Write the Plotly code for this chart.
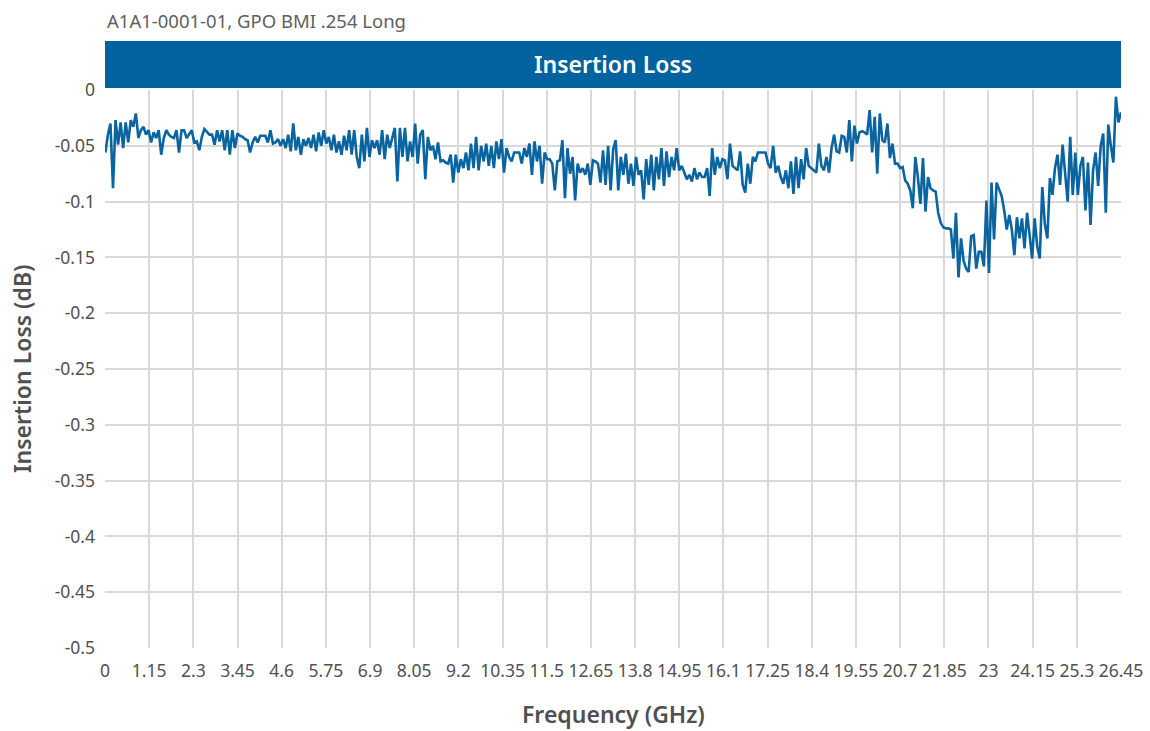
import numpy as np
import plotly.graph_objects as go

# Sweep definition (401-point linear frequency sweep, GHz)
F_START = 0.01
F_STOP = 26.45
N_POINTS = 401

# Measured insertion loss (dB), in sweep order
loss_a = [
    -0.056, -0.040, -0.030, -0.088, -0.027, -0.049, -0.029, -0.052, -0.029, -0.047,
    -0.027, -0.033, -0.021, -0.043, -0.036, -0.033, -0.040, -0.036, -0.047, -0.038,
    -0.043, -0.036, -0.058, -0.043, -0.036, -0.040, -0.042, -0.043, -0.036, -0.056,
    -0.036, -0.036, -0.043, -0.040, -0.036, -0.047,
    -0.046, -0.054, -0.042, -0.035, -0.038, -0.040, -0.040, -0.049, -0.036, -0.046,
    -0.036, -0.054, -0.036, -0.058, -0.036, -0.052, -0.039, -0.041, -0.042, -0.044,
    -0.045, -0.056, -0.047, -0.042, -0.047, -0.041, -0.041, -0.041, -0.047, -0.036,
    -0.048, -0.047, -0.044, -0.050, -0.044,
]
loss_b = [
    -0.052, -0.040, -0.055, -0.030, -0.054, -0.042, -0.058, -0.044, -0.050, -0.043,
    -0.052, -0.040, -0.055, -0.038, -0.050, -0.036, -0.048, -0.042, -0.054, -0.040,
    -0.056, -0.046, -0.058, -0.041, -0.054, -0.036, -0.058, -0.036, -0.060, -0.070,
    -0.040, -0.064, -0.034, -0.060, -0.045, -0.052,
    -0.045, -0.058, -0.036, -0.062, -0.040, -0.052, -0.044, -0.034, -0.082, -0.034,
    -0.060, -0.034, -0.064, -0.046, -0.060, -0.030, -0.066, -0.040, -0.036, -0.080,
    -0.042, -0.054, -0.050, -0.062, -0.047, -0.064, -0.063, -0.065, -0.066, -0.058,
    -0.083, -0.058, -0.074, -0.062, -0.070, -0.056,
]
loss_c = [
    -0.072, -0.048, -0.070, -0.042, -0.072, -0.050, -0.064, -0.048, -0.068, -0.050,
    -0.070, -0.046, -0.062, -0.044, -0.074, -0.052, -0.060, -0.064, -0.056, -0.056,
    -0.056, -0.066, -0.052, -0.060, -0.048, -0.076, -0.046, -0.064, -0.050, -0.084,
    -0.056, -0.062, -0.062, -0.066, -0.090, -0.064,
    -0.063, -0.045, -0.097, -0.052, -0.075, -0.060, -0.099, -0.066, -0.074, -0.070,
    -0.076, -0.066, -0.085, -0.063, -0.064, -0.066, -0.083, -0.054, -0.085, -0.050,
    -0.090, -0.053, -0.045, -0.090, -0.060, -0.076, -0.057, -0.084, -0.066, -0.086,
    -0.060, -0.076, -0.072, -0.098, -0.062,
]
loss_d = [
    -0.085, -0.058, -0.090, -0.060, -0.080, -0.052, -0.086, -0.055, -0.078, -0.060,
    -0.072, -0.052, -0.072, -0.068, -0.074, -0.080, -0.076, -0.082, -0.070, -0.080,
    -0.074, -0.078, -0.078, -0.070, -0.095, -0.052, -0.076, -0.060, -0.070, -0.062,
    -0.063, -0.080, -0.048, -0.068, -0.070,
    -0.072, -0.055, -0.085, -0.092, -0.066, -0.084, -0.060, -0.064, -0.056, -0.056,
    -0.056, -0.056, -0.066, -0.070, -0.050, -0.074, -0.068, -0.078, -0.084, -0.072,
    -0.088, -0.064, -0.093, -0.060, -0.088, -0.062, -0.080, -0.052, -0.068, -0.070,
    -0.072, -0.074, -0.048, -0.068, -0.072, -0.060,
]
loss_e = [
    -0.074, -0.052, -0.040, -0.055, -0.056, -0.041, -0.042, -0.056, -0.027, -0.064,
    -0.032, -0.048, -0.038, -0.037, -0.038, -0.040, -0.018, -0.056, -0.024, -0.075,
    -0.021, -0.045, -0.047, -0.030, -0.061, -0.048, -0.066, -0.066, -0.070, -0.069,
    -0.081, -0.084, -0.090,
    -0.106, -0.060, -0.078, -0.102, -0.061, -0.109, -0.078, -0.088, -0.090, -0.091,
    -0.110, -0.119, -0.123, -0.124, -0.124, -0.125, -0.151, -0.110, -0.168, -0.133,
    -0.153, -0.160, -0.163, -0.131, -0.130, -0.160, -0.145, -0.145, -0.158, -0.099,
    -0.164, -0.083, -0.134, -0.083, -0.090, -0.095, -0.108, -0.125, -0.112, -0.125,
    -0.148, -0.114,
]
loss_f = [
    -0.133, -0.115, -0.142, -0.110, -0.130, -0.151, -0.115, -0.140, -0.151, -0.087,
    -0.120, -0.133, -0.079, -0.094, -0.070, -0.058, -0.085, -0.049, -0.075, -0.100,
    -0.042, -0.094, -0.056, -0.094, -0.068, -0.060, -0.108, -0.065, -0.121, -0.072,
    -0.056, -0.086, -0.050, -0.039, -0.110, -0.031, -0.050, -0.065, -0.006, -0.029,
    -0.020, -0.009,
]

# Axis tick labels
x_tick_labels = ["0", "1.15", "2.3", "3.45", "4.6", "5.75", "6.9", "8.05", "9.2",
                 "10.35", "11.5", "12.65", "13.8", "14.95", "16.1", "17.25", "18.4",
                 "19.55", "20.7", "21.85", "23", "24.15", "25.3", "26.45"]
y_tick_labels = ["0", "-0.05", "-0.1", "-0.15", "-0.2", "-0.25", "-0.3", "-0.35",
                 "-0.4", "-0.45", "-0.5"]

loss = loss_a + loss_b + loss_c + loss_d + loss_e + loss_f
n = min(len(loss), N_POINTS)
freq = np.linspace(F_START, F_STOP, N_POINTS)[:n]
loss = loss[:n]

BLUE = "#0a64a0"
GRID = "#d9d9d9"
TEXT = "#505050"
FONT = "Noto Sans"

fig = go.Figure()
fig.add_trace(go.Scatter(
    x=freq, y=loss, mode="lines",
    line=dict(color=BLUE, width=2.6),
    hoverinfo="x+y", showlegend=False,
))

W, H = 1150, 731
ML, MR, MT, MB = 105, 29, 90, 83
plot_h = H - MT - MB
plot_w = W - ML - MR


def py(pix):
    # convert a pixel row into paper y coordinates
    return 1 + (MT - pix) / plot_h


def px(pix):
    return (pix - ML) / plot_w


fig.update_layout(
    width=W, height=H,
    margin=dict(l=ML, r=MR, t=MT, b=MB, autoexpand=False),
    paper_bgcolor="white", plot_bgcolor="white",
    font=dict(family=FONT, size=17, color=TEXT),
    xaxis=dict(
        range=[0, 26.45],
        tickvals=[float(t) for t in x_tick_labels],
        ticktext=x_tick_labels,
        showgrid=True, gridcolor=GRID, gridwidth=1.5,
        zeroline=False, showline=False, ticks="",
        tickfont=dict(size=17.5, color=TEXT),
        ticklabelstandoff=10,
    ),
    yaxis=dict(
        range=[-0.5, 0],
        tickvals=[float(t) for t in y_tick_labels],
        ticktext=y_tick_labels,
        showgrid=True, gridcolor=GRID, gridwidth=1.5,
        zeroline=False, showline=False, ticks="",
        tickfont=dict(size=17.5, color=TEXT),
        ticklabelstandoff=9,
    ),
    shapes=[
        dict(type="rect", xref="paper", yref="paper",
             x0=0, x1=1, y0=py(88), y1=py(41),
             fillcolor="#00629f", line=dict(width=0), layer="above"),
    ],
    annotations=[
        dict(text="Insertion Loss", xref="paper", yref="paper",
             x=0.5, y=py(64), xanchor="center", yanchor="middle",
             showarrow=False, font=dict(size=23, color="white", family=FONT, weight=600)),
        dict(text="A1A1-0001-01, GPO BMI .254 Long", xref="paper", yref="paper",
             x=0, y=py(20), xanchor="left", yanchor="middle",
             showarrow=False, font=dict(size=18.5, color="#606060", family=FONT)),
        dict(text="Insertion Loss (dB)", xref="paper", yref="paper",
             x=px(22), y=py(369), xanchor="center", yanchor="middle", textangle=-90,
             showarrow=False, font=dict(size=23, color=TEXT, family=FONT, weight=600)),
        dict(text="Frequency (GHz)", xref="paper", yref="paper",
             x=px(613), y=py(714), xanchor="center", yanchor="middle",
             showarrow=False, font=dict(size=23, color=TEXT, family=FONT, weight=600)),
    ],
)

fig.write_html("out.html")
